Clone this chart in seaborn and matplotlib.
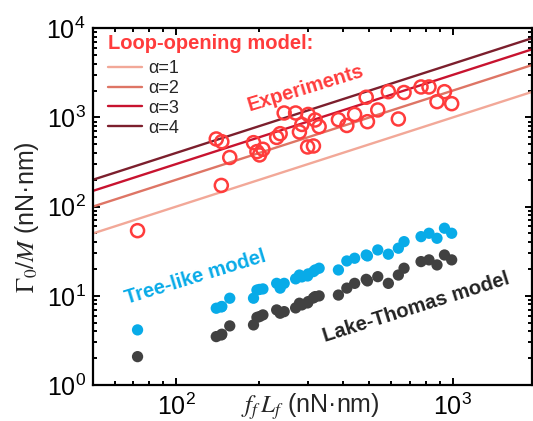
import numpy as np
import pandas as pd
import matplotlib
matplotlib.use("Agg")
import matplotlib.pyplot as plt
import seaborn as sns

# ---------------------------------------------------------------
# data
# ---------------------------------------------------------------
ff_Lf = [72.6, 139.8, 145.8, 146.4, 156.4, 190.6, 196.1, 200.4, 206.1,
         231.1, 237.9, 246.0, 270.6, 279.3, 285.0, 299.0, 300.3, 313.9,
         318.3, 329.1, 386.4, 414.4, 442.2, 487.0, 492.0, 536.1, 585.5,
         636.3, 667.2, 768.6, 821.1, 877.7, 934.1, 991.7]

experiments = [53.8, 574, 173, 535, 356, 522, 414, 380, 440,
               597, 658, 1123, 1123, 688, 835, 467, 1081, 479,
               937, 789, 945, 813, 1081, 1685, 897, 1214, 1946,
               962, 1906, 2198, 2198, 1504, 1946, 1428]

tree_like = [4.15, 7.26, 7.5, 7.6, 9.4, 9.4, 11.6, 11.8, 11.95,
             13.8, 12.2, 13.8, 15.5, 17.1, 16.3, 16.7, 17.6, 18.7,
             19.5, 20.4, 19.5, 24.6, 26.4, 28.7, 28.0, 32.7, 29.3,
             34.2, 40.5, 46.1, 50.3, 44.2, 57.3, 50.3]

lake_thomas = [2.08, 3.49, 3.64, 3.71, 4.60, 4.72, 5.73, 5.85, 6.11,
               6.95, 6.38, 6.65, 7.32, 8.26, 7.91, 8.32, 8.61, 9.47,
               9.80, 9.98, 10.2, 12.2, 13.8, 15.3, 14.7, 16.4, 13.8,
               17.1, 20.4, 24.2, 25.3, 22.2, 28.7, 25.3]

alphas = [1, 2, 3, 4]
alpha_colors = ["#f2a898", "#de7565", "#c8132f", "#7c1f2d"]

x_range = [50, 1930]
y_range = [1, 1e4]

df = pd.DataFrame({"fL": ff_Lf, "exp": experiments,
                   "tree": tree_like, "lt": lake_thomas})

# ---------------------------------------------------------------
# style
# ---------------------------------------------------------------
sns.set_theme(style="ticks")
plt.rcParams["font.family"] = ["Liberation Sans", "DejaVu Sans"]
plt.rcParams["mathtext.fontset"] = "stix"

fig = plt.figure(figsize=(5.33, 4.21), dpi=100)
ax = fig.add_axes([0.174, 0.0855, 0.8235, 0.8473])

# loop-opening model lines: Gamma0/M = alpha * f_f L_f
for a, c in zip(alphas, alpha_colors):
    line_x = np.array(x_range, dtype=float)
    sns.lineplot(x=line_x, y=a * line_x, color=c, lw=1.7,
                 label=f"α={a}", ax=ax)

sns.scatterplot(data=df, x="fL", y="exp", marker="o", s=88,
                facecolor="none", edgecolor="#ff3c3c", linewidth=1.8,
                ax=ax, zorder=4)
sns.scatterplot(data=df, x="fL", y="tree", marker="o", s=66,
                color="#08abe8", edgecolor="none", ax=ax, zorder=3)
sns.scatterplot(data=df, x="fL", y="lt", marker="o", s=66,
                color="#414141", edgecolor="none", ax=ax, zorder=3)

ax.set_xscale("log")
ax.set_yscale("log")
ax.set_xlim(x_range)
ax.set_ylim(y_range)

# ticks inward on all sides
ax.tick_params(which="both", direction="in", top=True, right=True,
               width=1.4, colors="black")
ax.tick_params(which="major", length=5, labelsize=18, pad=5)
ax.tick_params(which="minor", length=3)
ax.tick_params(axis="x", which="major", pad=6)
for sp in ax.spines.values():
    sp.set_linewidth(1.6)
    sp.set_color("black")

ax.set_xlabel(r"$f_f\,L_f$ (nN·nm)", fontsize=18)
ax.xaxis.set_label_coords(0.495, -0.018)
ax.xaxis.label.set_va("top")
ax.set_ylabel(r"$\Gamma_0/M$ (nN·nm)", fontsize=18)
ax.yaxis.set_label_coords(-0.118, 0.47)

# legend title drawn as its own text, entries below it
ax.text(0.035, 0.943, "Loop-opening model:", transform=ax.transAxes,
        color="#ff3c3c", fontsize=14.5, fontweight="bold",
        ha="left", va="baseline")
ax.legend(loc="upper left", bbox_to_anchor=(0.035, 0.91),
          frameon=False, fontsize=13, handlelength=1.9,
          handletextpad=0.35, labelspacing=0.15, borderpad=0.0,
          borderaxespad=0.0)

ax.text(293, 2143, "Experiments", color="#ff3c3c", fontsize=14.5,
        fontweight="bold", rotation=17, ha="center", va="center",
        rotation_mode="anchor")
ax.text(118, 16.1, "Tree-like model", color="#08abe8", fontsize=14.5,
        fontweight="bold", rotation=17, ha="center", va="center",
        rotation_mode="anchor")
ax.text(740, 7.4, "Lake-Thomas model", color="#222222", fontsize=14.5,
        fontweight="bold", rotation=17.5, ha="center", va="center",
        rotation_mode="anchor")

fig.savefig("out.png", dpi=100)
